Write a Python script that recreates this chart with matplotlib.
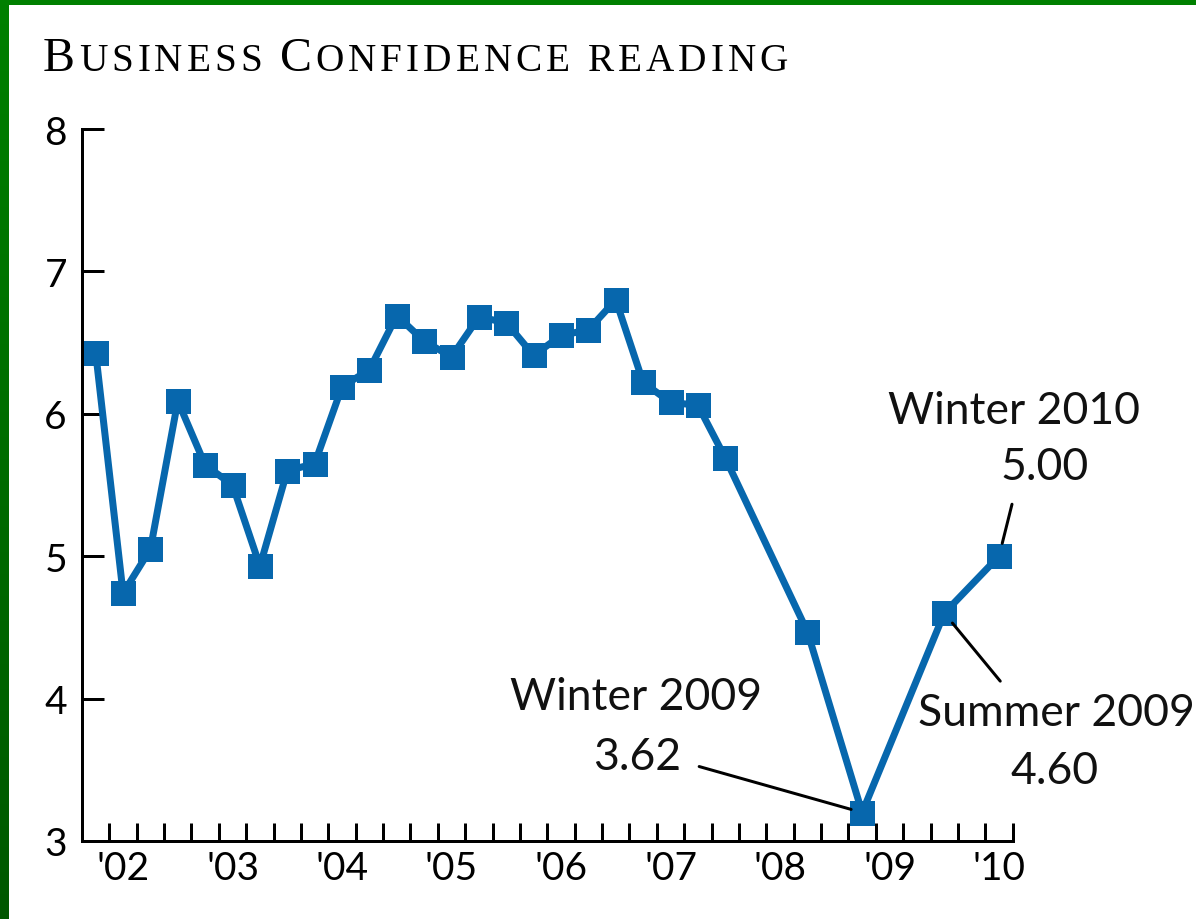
import numpy as np
import matplotlib
matplotlib.use('Agg')
import matplotlib.pyplot as plt
from matplotlib.patches import Rectangle
from matplotlib.colors import LinearSegmentedColormap

# ---------------- data ----------------
# quarter slot index (0 = first survey slot shown)
slots = [0, 1, 2, 3, 4, 5, 6, 7, 8, 9, 10, 11, 12, 13, 14, 15, 16, 17, 18, 19,
         20, 21, 22, 23, 26, 28, 31, 33]
values = [6.43, 4.74, 5.05, 6.09, 5.64, 5.50, 4.93, 5.60, 5.65, 6.19,
          6.31, 6.69, 6.51, 6.40, 6.68, 6.64, 6.41, 6.55, 6.59, 6.80,
          6.22, 6.08, 6.06, 5.69, 4.47, 3.20, 4.60, 5.00]
year_labels = ["'02", "'03", "'04", "'05", "'06", "'07", "'08", "'09", "'10"]
y_ticks = [3, 4, 5, 6, 7, 8]

# annotations: (index into data, title line, value line)
annotations = [
    (27, "Winter 2010", "5.00"),
    (25, "Winter 2009", "3.62"),
    (26, "Summer 2009", "4.60"),
]

title_parts = [("B", True), ("USINESS ", False), ("C", True),
               ("ONFIDENCE READING", False)]

# ---------------- style ----------------
W, H, DPI = 1196, 920, 100
BLUE = '#0767ad'
SANS = ['Lato', 'DejaVu Sans']
SERIF = ['Liberation Serif', 'DejaVu Serif']
PX = 72.0 / DPI  # points per pixel

fig = plt.figure(figsize=(W / DPI, H / DPI), dpi=DPI)
fig.patch.set_facecolor('white')

# green frame (top and left)
fig.patches.append(Rectangle((0, 1 - 6 / H), 1, 6 / H, transform=fig.transFigure,
                             facecolor='#008000', edgecolor='none', zorder=0))
bax = fig.add_axes([0, 0, 9 / W, 1])
grad = np.linspace(0, 1, 256).reshape(-1, 1)
gcm = LinearSegmentedColormap.from_list('g', ['#008000', '#005800'])
bax.imshow(grad, aspect='auto', cmap=gcm, extent=[0, 1, 0, 1], origin='upper')
bax.set_axis_off()

# main axes
ax = fig.add_axes([82 / W, (H - 842) / H, (1012.7 - 82) / W, (842 - 130) / H])
ax.set_xlim(0, 34)
ax.set_ylim(3, 8)

x = np.array(slots) + 0.5
ax.plot(x, values, color=BLUE, lw=7 * PX, marker='s', ms=25 * PX,
        mfc=BLUE, mec=BLUE, mew=0, clip_on=False, zorder=3,
        solid_joinstyle='miter')

for s in ['top', 'right']:
    ax.spines[s].set_visible(False)
for s in ['left', 'bottom']:
    ax.spines[s].set_linewidth(3 * PX)
    ax.spines[s].set_capstyle('projecting')

ax.set_yticks(y_ticks)
ax.set_yticklabels([str(v) for v in y_ticks], fontfamily=SANS, fontsize=28)
ax.tick_params(axis='y', direction='in', length=22 * PX, width=3 * PX,
               pad=15 * PX, labelsize=28)

ax.set_xticks(np.arange(1, 35))
ax.set_xticklabels([])
ax.tick_params(axis='x', which='major', direction='in', length=18 * PX,
               width=3 * PX)
ax.set_xticks(1.5 + 4 * np.arange(len(year_labels)), minor=True)
ax.set_xticklabels(year_labels, minor=True, fontfamily=SANS, fontsize=28)
ax.tick_params(axis='x', which='minor', length=0, pad=9 * PX, labelsize=28)

# annotations (offsets in pixels, converted to points)
layout = {
    # idx: (title offset, value offset, leader far end, leader near end)
    27: ((15, 146), (46, 90), (13, 52), (2, 13)),
    25: ((-226, 116), (-225, 56), (-163, 46), (-9, 7)),
    26: ((112, -99), (110, -157), (56, -68), (8, -10)),
}
for idx, line1, line2 in annotations:
    t1, t2, far, near = layout[idx]
    xy = (x[idx], values[idx])
    ax.annotate(line1, xy=xy, xytext=(t1[0] * PX, t1[1] * PX),
                textcoords='offset points', ha='center', va='center',
                fontfamily=SANS, fontsize=32, color='#111111')
    ax.annotate(line2, xy=xy, xytext=(t2[0] * PX, t2[1] * PX),
                textcoords='offset points', ha='center', va='center',
                fontfamily=SANS, fontsize=32, color='#111111')
    ax.annotate('', xy=xy, xytext=(far[0] * PX, far[1] * PX),
                textcoords='offset points', zorder=4,
                arrowprops=dict(arrowstyle='-', color='black', lw=3 * PX,
                                shrinkA=0, shrinkB=np.hypot(*near) * PX))

# title in small caps with letter tracking
fig.canvas.draw()
renderer = fig.canvas.get_renderer()
x_start, x_end = 43.0, 788.0
ybase = (H - 71) / H
chars = []
for txt, big in title_parts:
    for ch in txt:
        chars.append((ch, 34.5 if big else 28.3))
texts = []
widths = []
for ch, size in chars:
    t = fig.text(0, ybase, ch, fontfamily=SERIF, fontsize=size,
                 va='baseline', ha='left', color='black')
    texts.append(t)
    if ch == ' ':
        widths.append(size * 0.25 / PX)
    else:
        widths.append(t.get_window_extent(renderer=renderer).width)
natural = sum(widths)
extra = (x_end - x_start - natural) / (len(chars) - 1)
xpos = x_start
for t, w in zip(texts, widths):
    t.set_x(xpos / W)
    xpos += w + extra

fig.savefig('out.png', dpi=DPI, facecolor='white')
